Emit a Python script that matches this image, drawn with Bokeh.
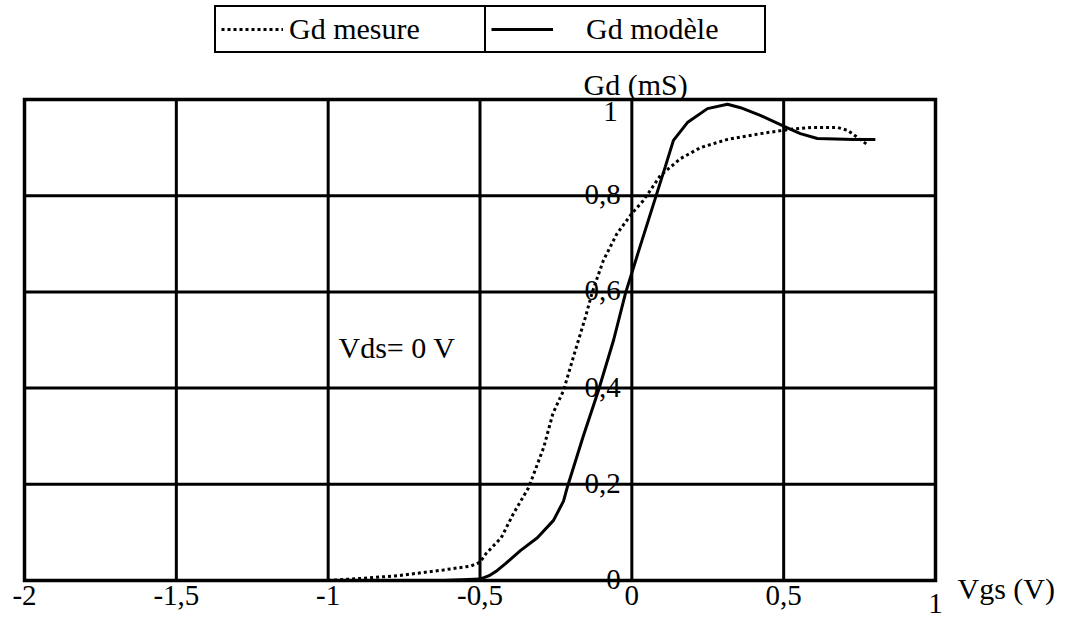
from bokeh.plotting import figure
from bokeh.models import Range1d, Legend, LegendItem, Label
from bokeh.core.properties import value
from bokeh.embed import file_html
from bokeh.resources import INLINE

# ---- data ----
vgs_mesure = [-1.0, -0.9, -0.77, -0.62, -0.53, -0.5, -0.48, -0.43, -0.39, -0.34, -0.29, -0.26,
              -0.225, -0.19, -0.153, -0.13, -0.094, -0.05, 0.0, 0.038, 0.094, 0.16, 0.226, 0.315,
              0.423, 0.522, 0.598, 0.677, 0.71, 0.776]
gd_mesure = [0.0, 0.004, 0.01, 0.022, 0.03, 0.038, 0.056, 0.089, 0.139, 0.193, 0.277, 0.347,
             0.395, 0.47, 0.547, 0.6, 0.665, 0.72, 0.763, 0.79, 0.842, 0.877, 0.9, 0.917,
             0.929, 0.938, 0.942, 0.942, 0.936, 0.906]

vgs_modele = [-0.62, -0.5, -0.47, -0.443, -0.416, -0.367, -0.311, -0.258, -0.225, -0.212, -0.16,
              -0.11, -0.06, -0.021, 0.02, 0.078, 0.11, 0.137, 0.183, 0.249, 0.315, 0.358, 0.423,
              0.516, 0.555, 0.611, 0.73, 0.802]
gd_modele = [0.0, 0.003, 0.01, 0.021, 0.035, 0.062, 0.089, 0.125, 0.165, 0.195, 0.3,
             0.395, 0.5, 0.597, 0.68, 0.796, 0.86, 0.915, 0.952, 0.981, 0.99, 0.983, 0.967,
             0.94, 0.929, 0.919, 0.917, 0.917]

x_ticks = [-2, -1.5, -1, -0.5, 0, 0.5]
x_tick_labels = ["-2", "-1,5", "-1", "-0,5", "0", "0,5"]
x_last_tick = [1]
x_last_label = ["1"]
y_ticks = [0, 0.2, 0.4, 0.6, 0.8]
y_tick_labels = ["0", "0,2", "0,4", "0,6", "0,8"]
y_top_tick = [1.0]
y_top_label = ["1"]
x_grid = [-1.5, -1, -0.5, 0, 0.5]
y_grid = [0.2, 0.4, 0.6, 0.8]

X_MIN, X_MAX = -2.0, 1.0
Y_MIN, Y_MAX = 0.0, 1.0

FONT = "Liberation Serif"

# ---- layout geometry (pixels) ----
W, H = 1067, 617
FL, FR, FT, FB = 24, 935, 99, 580   # pixel box of the plotting area


def dx(px):
    return X_MIN + (px - FL) / (FR - FL) * (X_MAX - X_MIN)


def dy(py):
    return Y_MIN + (FB - py) / (FB - FT) * (Y_MAX - Y_MIN)


p = figure(width=W, height=H, output_backend="svg", toolbar_location=None,
           x_range=Range1d(dx(0), dx(W)), y_range=Range1d(dy(H), dy(0)),
           x_axis_location=None, y_axis_location=None,
           min_border=0, min_border_left=0, min_border_right=0,
           min_border_top=0, min_border_bottom=0)
p.background_fill_color = "white"
p.border_fill_color = "white"
p.outline_line_color = None
p.xgrid.visible = False
p.ygrid.visible = False

# grid lines, limited to the plotting box
p.segment(x0=x_grid, y0=[Y_MIN] * len(x_grid), x1=x_grid, y1=[Y_MAX] * len(x_grid),
          line_color="black", line_width=3)
p.segment(x0=[X_MIN] * len(y_grid), y0=y_grid, x1=[X_MAX] * len(y_grid), y1=y_grid,
          line_color="black", line_width=3)
# frame
p.quad(left=[X_MIN], right=[X_MAX], bottom=[Y_MIN], top=[Y_MAX],
       fill_color=None, line_color="black", line_width=3.5, line_join="miter")

# curves
r_mes = p.line(vgs_mesure, gd_mesure, line_color="black", line_width=3, line_dash="3 3")
r_mod = p.line(vgs_modele, gd_modele, line_color="black", line_width=3)

# x tick labels (under the frame)
p.text(x=x_ticks, y=[Y_MIN] * len(x_ticks), text=x_tick_labels, text_align="center",
       text_baseline="top", y_offset=5,
       text_font=value(FONT), text_font_size="29px", text_color="black")
p.text(x=x_last_tick, y=[Y_MIN], text=x_last_label, text_align="center",
       text_baseline="top", y_offset=13,
       text_font=value(FONT), text_font_size="29px", text_color="black")

# y tick labels (inside the plot, left of the Vgs = 0 line)
p.text(x=[0] * len(y_ticks), y=y_ticks, text=y_tick_labels, text_align="right",
       text_baseline="alphabetic", x_offset=-11, y_offset=-1,
       text_font=value(FONT), text_font_size="29px", text_color="black")
p.text(x=[0], y=y_top_tick, text=y_top_label, text_align="right",
       text_baseline="top", x_offset=-14, y_offset=2,
       text_font=value(FONT), text_font_size="29px", text_color="black")

# axis titles and annotation
p.add_layout(Label(x=dx(583), y=dy(84), text="Gd (mS)", text_font=FONT,
                   text_font_size="30px", text_color="black", text_baseline="alphabetic"))
p.add_layout(Label(x=dx(957), y=dy(588), text="Vgs (V)", text_font=FONT,
                   text_font_size="30px", text_color="black", text_baseline="alphabetic"))
p.add_layout(Label(x=dx(338), y=dy(347), text="Vds= 0 V", text_font=FONT,
                   text_font_size="30px", text_color="black", text_baseline="alphabetic"))

# legend: two boxed cells side by side
common = dict(orientation="vertical", border_line_color="black", border_line_width=2.5,
              border_line_alpha=1.0,
              background_fill_color="white", background_fill_alpha=1.0,
              label_text_font=FONT, label_text_font_size="30px", label_text_color="black",
              padding=5, spacing=0, margin=0, glyph_height=30, label_height=30)
leg1 = Legend(items=[LegendItem(label="Gd mesure", renderers=[r_mes])],
              location=(214, H - 53), glyph_width=62, label_standoff=6,
              label_width=192, **common)
leg2 = Legend(items=[LegendItem(label="Gd modèle", renderers=[r_mod])],
              location=(484, H - 53), glyph_width=62, label_standoff=33,
              label_width=173, **common)
p.add_layout(leg1, "center")
p.add_layout(leg2, "center")

open("out.html", "w").write(file_html(p, INLINE))
